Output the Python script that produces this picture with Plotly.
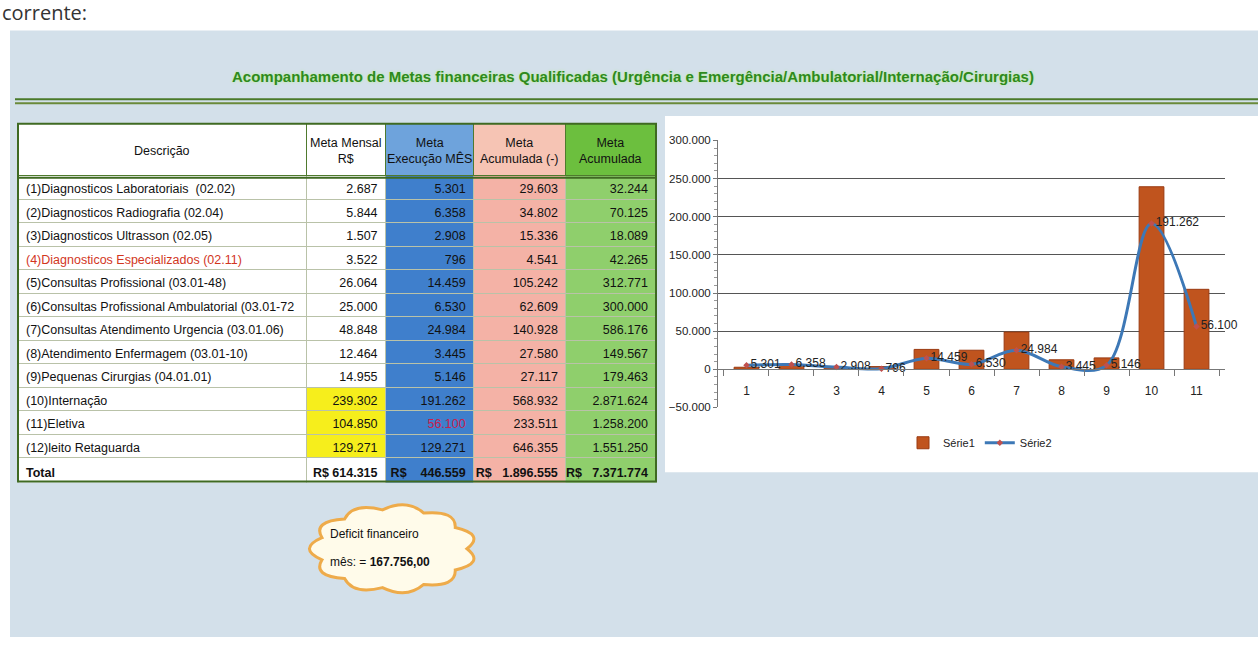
import math
import plotly.graph_objects as go

W, H = 1258, 648

# ---- data ----
descricao = [
    "(1)Diagnosticos Laboratoriais  (02.02)",
    "(2)Diagnosticos Radiografia (02.04)",
    "(3)Diagnosticos Ultrasson (02.05)",
    "(4)Diagnosticos Especializados (02.11)",
    "(5)Consultas Profissional (03.01-48)",
    "(6)Consultas Profissional Ambulatorial (03.01-72",
    "(7)Consultas Atendimento Urgencia (03.01.06)",
    "(8)Atendimento Enfermagem (03.01-10)",
    "(9)Pequenas Cirurgias (04.01.01)",
    "(10)Internação",
    "(11)Eletiva",
    "(12)leito Retaguarda",
]
meta_mensal = [2687, 5844, 1507, 3522, 26064, 25000, 48848, 12464, 14955, 239302, 104850, 129271]
meta_execucao = [5301, 6358, 2908, 796, 14459, 6530, 24984, 3445, 5146, 191262, 56100, 129271]
meta_acum_menos = [29603, 34802, 15336, 4541, 105242, 62609, 140928, 27580, 27117, 568932, 233511, 646355]
meta_acumulada = [32244, 70125, 18089, 42265, 312771, 300000, 586176, 149567, 179463, 2871624, 1258200, 1551250]
totais = ["R$ 614.315", "R$    446.559", "R$   1.896.555", "R$   7.371.774"]

headers = ["Descrição", "Meta Mensal<br>R$", "Meta<br>Execução MÊS", "Meta<br>Acumulada (-)", "Meta<br>Acumulada"]
col_widths = [288, 79, 88, 92, 90]

# chart series (items 1..11)
categorias = [str(i) for i in range(1, 12)]
serie1 = meta_mensal[:11]
serie2 = meta_execucao[:11]

FONT = "Liberation Sans, Arial, sans-serif"
NBSP = "\u00a0"
PANEL = "#d3e0ea"


def br(v):
    return f"{v:,}".replace(",", ".")


def px(x, y):
    return x / W, 1 - y / H


# ---- table ----
n = len(descricao)
tot = [f"<b>{t.replace(' ', NBSP)}</b>" for t in totais]
col_desc = descricao + ["<b>Total</b>"]
col_mensal = [br(v) for v in meta_mensal] + [tot[0]]
col_exec = [br(v) for v in meta_execucao] + [tot[1]]
col_am = [br(v) for v in meta_acum_menos] + [tot[2]]
col_ac = [br(v) for v in meta_acumulada] + [tot[3]]

blue, pink, green, yellow = "#3f7fcc", "#f4b2a6", "#8fcf6c", "#f6ee1c"
fill_desc = ["white"] * (n + 1)
fill_mensal = ["white" if i < 9 or i == n else yellow for i in range(n + 1)]
fill_exec = [blue] * (n + 1)
fill_am = [pink] * (n + 1)
fill_ac = [green] * (n + 1)

fc_desc = ["#d2361e" if i == 3 else "#111" for i in range(n + 1)]
fc_exec = ["#c8204e" if i == 10 else "#111" for i in range(n + 1)]
fc_other = ["#111"] * (n + 1)

fig = go.Figure()

T_LEFT, T_RIGHT, T_TOP, HEAD_H, ROW_H = 18, 656, 120, 52, 23.5
tx0, ty0 = px(T_LEFT, T_TOP)
tx1, ty1 = px(T_RIGHT, 500)
fig.add_trace(go.Table(
    domain=dict(x=[tx0, tx1], y=[ty1, ty0]),
    columnwidth=col_widths,
    header=dict(
        values=[""] * len(headers),
        fill_color=["white", "white", "#6ea3dc", "#f6c4b4", "#6cbf3e"],
        line=dict(color="#4f7a2e", width=1),
        height=HEAD_H,
        font=dict(family=FONT, size=12, color="#111"),
    ),
    cells=dict(
        values=[col_desc, col_mensal, col_exec, col_am, col_ac],
        fill_color=[fill_desc, fill_mensal, fill_exec, fill_am, fill_ac],
        line=dict(color="#b9c2a8", width=1),
        align=["left", "right", "right", "right", "right"],
        height=ROW_H,
        font=dict(family=FONT, size=12.5, color=[fc_desc, fc_other, fc_exec, fc_other, fc_other]),
    ),
))

# ---- chart ----
fig.add_trace(go.Bar(
    x=categorias, y=serie1, name="Série1",
    marker=dict(color="#c0541e", line=dict(color="#9a3a10", width=1)),
    xaxis="x", yaxis="y",
))
fig.add_trace(go.Scatter(
    x=categorias, y=serie2, name="Série2",
    mode="lines+markers+text",
    line=dict(color="#3d78b6", width=3, shape="spline", smoothing=1.0),
    marker=dict(color="#c0504d", size=5, symbol="diamond"),
    text=[br(v) for v in serie2], textposition="middle right",
    textfont=dict(family=FONT, size=12, color="#222"),
    cliponaxis=False,
    xaxis="x", yaxis="y",
))

cx0, cy_top = px(718, 137)
cx1, cy_bot = px(1225, 409)
zero_pos = 1 - 370 / H

# ---- decorations ----
shapes = []
bx0, by0 = px(10, 25)
bx1, by1 = px(1258, 643)
shapes.append(dict(type="rect", xref="paper", yref="paper", x0=bx0, x1=bx1, y0=by1, y1=by0,
                   fillcolor=PANEL, line_width=0, layer="below"))
wx0, wy0 = px(665, 112)
wx1, wy1 = px(1258, 475)
shapes.append(dict(type="rect", xref="paper", yref="paper", x0=wx0, x1=wx1, y0=wy1, y1=wy0,
                   fillcolor="white", line_width=0, layer="below"))
for yy, c in [(95, "#4a7a2a"), (99, "#6a8a3a")]:
    lx0, ly = px(15, yy)
    lx1, _ = px(1258, yy)
    shapes.append(dict(type="line", xref="paper", yref="paper", x0=lx0, x1=lx1, y0=ly, y1=ly,
                       line=dict(color=c, width=2), layer="below"))
head_bottom = T_TOP + HEAD_H + 3
t_bottom = head_bottom + ROW_H * (n + 1) + 4
# hide the sliver the table draws past its last row
cvx0, cvy0 = px(T_LEFT - 2, t_bottom + 1)
cvx1, cvy1 = px(T_RIGHT + 4, 502)
shapes.append(dict(type="rect", xref="paper", yref="paper", x0=cvx0, x1=cvx1, y0=cvy1, y1=cvy0,
                   fillcolor=PANEL, line_width=0, layer="above"))
shapes.append(dict(type="rect", xref="paper", yref="paper", x0=tx0, x1=tx1,
                   y0=px(0, t_bottom)[1], y1=ty0,
                   line=dict(color="#3f6a22", width=2), layer="above"))
hl = px(0, head_bottom)[1]
shapes.append(dict(type="line", xref="paper", yref="paper", x0=tx0, x1=tx1, y0=hl, y1=hl,
                   line=dict(color="#3f6a22", width=2), layer="above"))


def cloud_path(cx, cy, rx, ry, k=11, bulge=1.3):
    pts = []
    for i in range(k + 1):
        a = 2 * math.pi * i / k
        pts.append((cx + rx * math.cos(a), cy + ry * math.sin(a)))
    x, y = px(*pts[0])
    d = f"M{x:.5f},{y:.5f}"
    for i in range(k):
        am = 2 * math.pi * (i + 0.5) / k
        qx, qy = px(cx + rx * bulge * math.cos(am), cy + ry * bulge * math.sin(am))
        ex, ey = px(*pts[i + 1])
        d += f" Q{qx:.5f},{qy:.5f} {ex:.5f},{ey:.5f}"
    return d + " Z"


shapes.append(dict(type="path", xref="paper", yref="paper", path=cloud_path(393, 553, 74, 40),
                   fillcolor="#fffbea", line=dict(color="#eeab4a", width=3), layer="above"))

annotations = [
    dict(text="corrente:", x=0.0, y=px(0, 7)[1], xref="paper", yref="paper", xanchor="left",
         yanchor="middle", showarrow=False, font=dict(family="Open Sans", size=20, color="#333")),
    dict(text="<b>Acompanhamento de Metas financeiras Qualificadas (Urgência e Emergência/Ambulatorial/Internação/Cirurgias)</b>",
         x=px(633, 0)[0], y=px(0, 72)[1], xref="paper", yref="paper", showarrow=False,
         xanchor="center", yanchor="middle",
         font=dict(family=FONT, size=15, color="#2e8a1c", shadow="0px 0px 3px #b8f090")),
    dict(text="Deficit financeiro", x=px(328, 0)[0], y=px(0, 538)[1],
         xref="paper", yref="paper", xanchor="left", yanchor="middle", showarrow=False,
         font=dict(family=FONT, size=12, color="#111")),
    dict(text="mês: = <b>167.756,00</b>", x=px(328, 0)[0], y=px(0, 566)[1],
         xref="paper", yref="paper", xanchor="left", yanchor="middle", showarrow=False,
         font=dict(family=FONT, size=12, color="#111")),
]

# header labels centred in each column
scale = (T_RIGHT - T_LEFT) / sum(col_widths)
left = T_LEFT
for label, w in zip(headers, col_widths):
    cxp = left + w * scale / 2
    annotations.append(dict(text=label, x=px(cxp, 0)[0], y=px(0, (T_TOP + head_bottom) / 2)[1],
                            xref="paper", yref="paper", showarrow=False, align="center",
                            xanchor="center", yanchor="middle",
                            font=dict(family=FONT, size=12.5, color="#111")))
    left += w * scale

fig.update_layout(
    width=W, height=H, autosize=False,
    margin=dict(l=0, r=0, t=0, b=0),
    paper_bgcolor="white", plot_bgcolor="rgba(0,0,0,0)",
    separators=",.",
    bargap=0.45,
    shapes=shapes, annotations=annotations,
    xaxis=dict(domain=[cx0, cx1], type="category", anchor="free", position=zero_pos,
               showline=True, linecolor="#777", linewidth=1, ticks="outside", tickson="boundaries",
               ticklen=6, tickcolor="#777", showgrid=False, ticklabelstandoff=10,
               tickfont=dict(family=FONT, size=12, color="#222")),
    yaxis=dict(domain=[cy_bot, cy_top], range=[-50000, 300000], dtick=50000, tickformat=",d",
               showline=True, linecolor="#777", linewidth=1, ticks="outside", ticklen=4,
               tickcolor="#777", gridcolor="#555", gridwidth=1.3, zeroline=False,
               minor=dict(ticks="outside", dtick=10000, ticklen=3, tickcolor="#999"),
               tickfont=dict(family=FONT, size=11.5, color="#222")),
    legend=dict(orientation="h", x=px(980, 0)[0], xanchor="center", y=px(0, 445)[1], yanchor="middle",
                bgcolor="rgba(0,0,0,0)", font=dict(family=FONT, size=11, color="#222")),
    font=dict(family=FONT),
)

fig.write_html("out.html", config={"displayModeBar": False},
               post_script="document.body.style.margin='0';document.body.style.overflow='hidden';")
